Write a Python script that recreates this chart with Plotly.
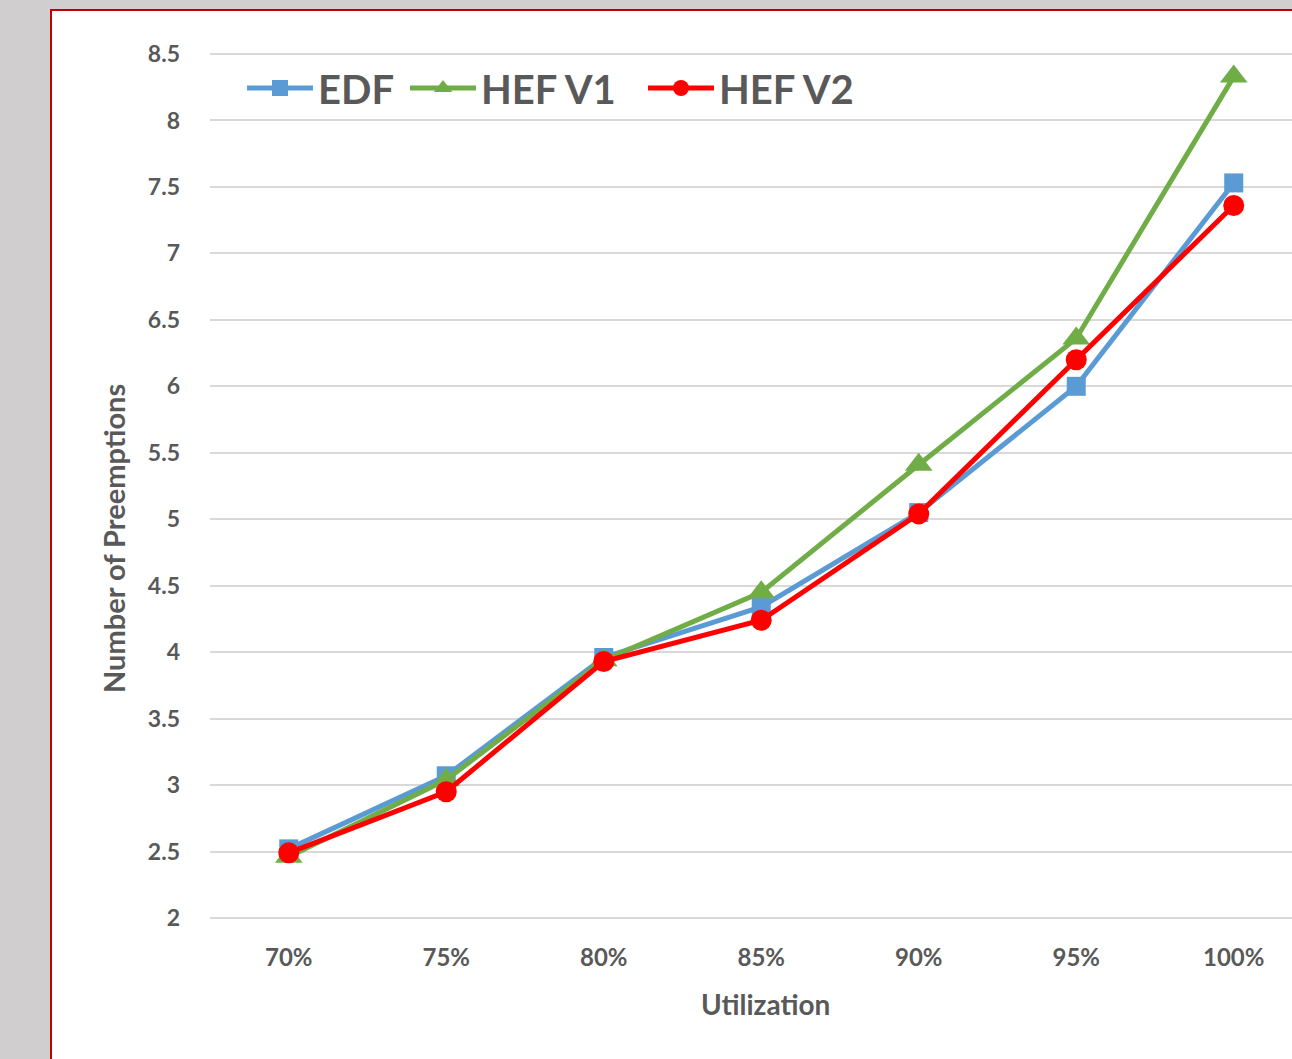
import plotly.graph_objects as go

# Data
utilization = ["70%", "75%", "80%", "85%", "90%", "95%", "100%"]
edf = [2.52, 3.07, 3.96, 4.34, 5.05, 6.00, 7.53]
hef_v1 = [2.46, 3.04, 3.94, 4.45, 5.41, 6.36, 8.33]
hef_v2 = [2.49, 2.95, 3.93, 4.24, 5.04, 6.20, 7.36]
y_ticks = [2, 2.5, 3, 3.5, 4, 4.5, 5, 5.5, 6, 6.5, 7, 7.5, 8, 8.5]

W, H = 1292, 1059
ML, MR, MT, MB = 210, 0, 52, 139
PW, PH = W - ML - MR, H - MT - MB

FONT = "Lato"
TXT = "#595959"


def px_x(px):
    return (px - ML) / PW


def px_y(py):
    return (H - MB - py) / PH


fig = go.Figure()

# name, values, colour, marker symbol, marker size, legend id, legend left edge (px)
series = [
    ("EDF", edf, "#5B9BD5", "square", 19, "legend", 242),
    ("HEF V1", hef_v1, "#70AD47", "triangle-up", 24, "legend2", 405),
    ("HEF V2", hef_v2, "#FF0000", "circle", 21, "legend3", 643),
]
legend_layout = {}
for name, vals, color, symbol, msize, leg, lx in series:
    fig.add_trace(go.Scatter(
        x=utilization, y=vals, name=name, mode="lines+markers",
        line=dict(color=color, width=5),
        marker=dict(symbol=symbol, size=msize, color=color),
        cliponaxis=False, legend=leg,
    ))
    legend_layout[leg] = dict(
        x=px_x(lx), y=px_y(88), xanchor="left", yanchor="middle",
        font=dict(family=FONT, size=40, color=TXT, weight="bold"),
        itemwidth=66, bgcolor="rgba(0,0,0,0)",
    )

# White card with red frame on the grey page
fig.add_shape(
    type="rect", xref="paper", yref="paper", layer="below",
    x0=px_x(51), x1=px_x(1400), y0=px_y(1200), y1=px_y(10),
    line=dict(color="#C00000", width=2), fillcolor="white",
)

fig.add_annotation(
    text="Number of Preemptions", xref="paper", yref="paper",
    x=px_x(113), y=px_y(539), textangle=-90, showarrow=False,
    font=dict(family=FONT, size=29, color=TXT, weight="bold"),
    xanchor="center", yanchor="middle",
)
fig.add_annotation(
    text="Utilization", xref="paper", yref="paper",
    x=px_x(765), y=px_y(1004), showarrow=False,
    font=dict(family=FONT, size=28, color=TXT, weight="bold"),
    xanchor="center", yanchor="middle",
)

fig.update_layout(
    width=W, height=H,
    margin=dict(l=ML, r=MR, t=MT, b=MB),
    paper_bgcolor="#D0CECF",
    plot_bgcolor="rgba(0,0,0,0)",
    font=dict(family=FONT, color=TXT),
    showlegend=True,
    xaxis=dict(
        type="category", range=[-0.5, 6.37],
        showgrid=False, zeroline=False, showline=False, ticks="",
        tickfont=dict(family=FONT, size=24, color=TXT, weight="bold"),
        ticklabelstandoff=21,
    ),
    yaxis=dict(
        range=[1.985, 8.515], tickvals=y_ticks,
        ticktext=[f"{v:g}" for v in y_ticks],
        showgrid=True, gridcolor="#D9D9D9", gridwidth=2,
        zeroline=False, showline=False, ticks="",
        tickfont=dict(family=FONT, size=23, color=TXT, weight="bold"),
        ticklabelstandoff=29,
    ),
    **legend_layout,
)

fig.write_html("out.html")
